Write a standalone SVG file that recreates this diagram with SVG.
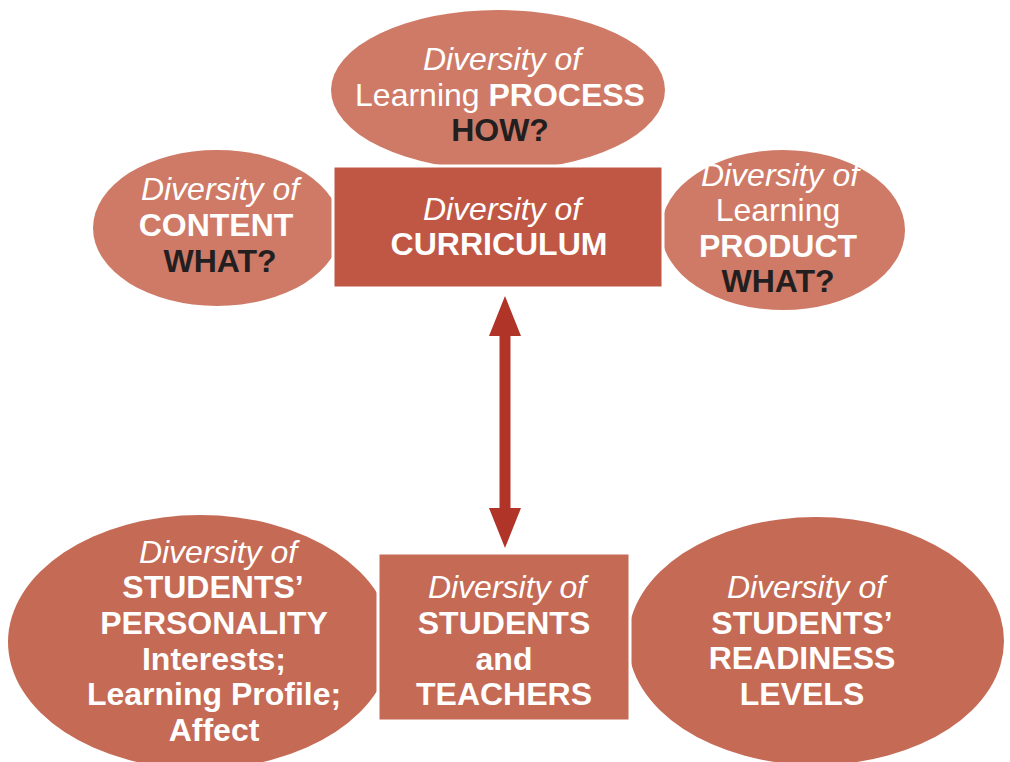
<svg xmlns="http://www.w3.org/2000/svg" width="1010" height="762" viewBox="0 0 1010 762">
<style>
text{font-family:"Liberation Sans",Arial,sans-serif;font-size:32px;fill:#ffffff;text-anchor:middle}
.i{font-style:italic}
.b{font-weight:bold}
.d{font-weight:bold;fill:#231f20}
.top{fill:#cf7a66}
.mid{fill:#c05745;stroke:#ffffff;stroke-width:3}
.bot{fill:#c56a55}
.botr{fill:#c56a55;stroke:#ffffff;stroke-width:3}
</style>
<defs>
<marker id="ah" viewBox="0 0 40 32" refX="1" refY="16" markerWidth="40" markerHeight="32" markerUnits="userSpaceOnUse" orient="auto-start-reverse">
<path d="M0,0 L40,16 L0,32 Z" fill="#b03428"/>
</marker>
</defs>
<rect width="1010" height="762" fill="#ffffff"/>
<g id="process">
<ellipse class="top" cx="498" cy="90" rx="167" ry="80"/>
<text x="502" y="70" class="i">Diversity of</text>
<text x="500" y="106"><tspan>Learning </tspan><tspan class="b">PROCESS</tspan></text>
<text x="500" y="141" class="d">HOW?</text>
</g>
<g id="content">
<ellipse class="top" cx="217" cy="228" rx="124" ry="78"/>
<text x="220" y="200" class="i">Diversity of</text>
<text x="216" y="236" class="b">CONTENT</text>
<text x="220" y="272" class="d">WHAT?</text>
</g>
<g id="product">
<ellipse class="top" cx="783" cy="230" rx="122" ry="80"/>
<text x="780" y="186" class="i">Diversity of</text>
<text x="778" y="221">Learning</text>
<text x="778" y="257" class="b">PRODUCT</text>
<text x="778" y="292" class="d">WHAT?</text>
</g>
<g id="curriculum">
<rect class="mid" x="333" y="166" width="330" height="122"/>
<text x="502" y="220" class="i">Diversity of</text>
<text x="499" y="255" class="b">CURRICULUM</text>
</g>
<g id="personality">
<ellipse class="bot" cx="200" cy="642" rx="192" ry="127"/>
<text x="218" y="563" class="i">Diversity of</text>
<text x="213" y="598" class="b">STUDENTS’</text>
<text x="214" y="634" class="b">PERSONALITY</text>
<text x="214" y="670" class="b">Interests;</text>
<text x="214" y="705" class="b">Learning Profile;</text>
<text x="214" y="741" class="b">Affect</text>
</g>
<g id="readiness">
<ellipse class="bot" cx="816" cy="641" rx="188" ry="124"/>
<text x="806" y="598" class="i">Diversity of</text>
<text x="802" y="634" class="b">STUDENTS’</text>
<text x="802" y="669" class="b">READINESS</text>
<text x="802" y="705" class="b">LEVELS</text>
</g>
<g id="students">
<rect class="botr" x="378" y="553" width="252" height="168"/>
<text x="507" y="598" class="i">Diversity of</text>
<text x="504" y="634" class="b">STUDENTS</text>
<text x="504" y="670" class="b">and</text>
<text x="504" y="705" class="b">TEACHERS</text>
</g>
<g id="connectors">
<line x1="505" y1="335" x2="505" y2="509" stroke="#b03428" stroke-width="11" marker-start="url(#ah)" marker-end="url(#ah)"/>
</g>
</svg>
